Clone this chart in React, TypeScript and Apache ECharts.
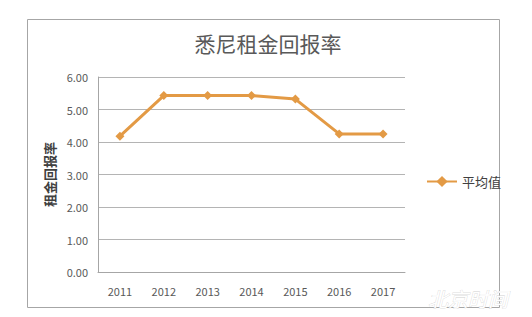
import React, { useEffect, useRef } from "react";
import * as echarts from "echarts";

const categories = ["2011", "2012", "2013", "2014", "2015", "2016", "2017"];
const averageValues = [4.18, 5.43, 5.43, 5.43, 5.32, 4.25, 4.25];
const seriesName = "平均值";
const titleText = "悉尼租金回报率";
const yAxisName = "租金回报率";

export default function App() {
  const ref = useRef<HTMLDivElement>(null);
  useEffect(() => {
    const chart = echarts.init(ref.current!, null, { renderer: "svg" });
    const font = "'Noto Sans CJK SC', 'Noto Sans', sans-serif";
    chart.setOption({
      animation: false,
      backgroundColor: "#ffffff",
      title: {
        text: titleText,
        left: 263,
        textAlign: "center",
        top: 27,
        textStyle: { fontFamily: font, fontSize: 21, fontWeight: "normal", color: "#595959" },
      },
      grid: { left: 98, right: 127, top: 77, bottom: 45, containLabel: false },
      legend: {
        data: [seriesName],
        left: 421,
        top: 170,
        itemWidth: 30,
        itemHeight: 14,
        itemGap: 4,
        textStyle: { fontFamily: font, fontSize: 13, color: "#404040" },
      },
      xAxis: {
        type: "category",
        data: categories,
        boundaryGap: true,
        axisLine: { show: true, lineStyle: { color: "#a6a6a6", width: 1 } },
        axisTick: { show: false },
        axisLabel: { fontFamily: font, fontSize: 11, color: "#595959", margin: 13 },
      },
      yAxis: {
        type: "value",
        min: 0,
        max: 6,
        interval: 1,
        name: yAxisName,
        nameLocation: "middle",
        nameGap: 40,
        nameRotate: 90,
        nameTextStyle: { fontFamily: font, fontSize: 13, fontWeight: "bold", color: "#404040" },
        axisLine: { show: true, lineStyle: { color: "#a6a6a6", width: 1 } },
        axisTick: { show: false },
        splitLine: { lineStyle: { color: "#b4b4b4", width: 1 } },
        axisLabel: {
          fontFamily: font,
          fontSize: 11,
          color: "#595959",
          margin: 10,
          formatter: (v: number) => v.toFixed(2),
        },
      },
      series: [
        {
          name: seriesName,
          type: "line",
          data: averageValues,
          symbol: "diamond",
          symbolSize: 9,
          lineStyle: { color: "#E39A45", width: 3 },
          itemStyle: { color: "#E39A45" },
        },
      ],
      graphic: [
        {
          type: "rect",
          shape: { x: 27.5, y: 19.5, width: 472, height: 288 },
          style: { fill: "none", stroke: "#a6a6a6", lineWidth: 1 },
          silent: true,
        },
        {
          type: "text",
          x: 428,
          y: 288,
          style: {
            text: "北京时间",
            font: "italic 20px 'Noto Sans CJK SC', sans-serif",
            fill: "#ffffff",
            stroke: "#d0d0d0",
            lineWidth: 0.6,
          },
          silent: true,
        },
      ],
    });
    return () => chart.dispose();
  }, []);
  return (
    <div
      ref={ref}
      style={{ position: "fixed", left: 0, top: 0, width: 532, height: 317 }}
    />
  );
}
